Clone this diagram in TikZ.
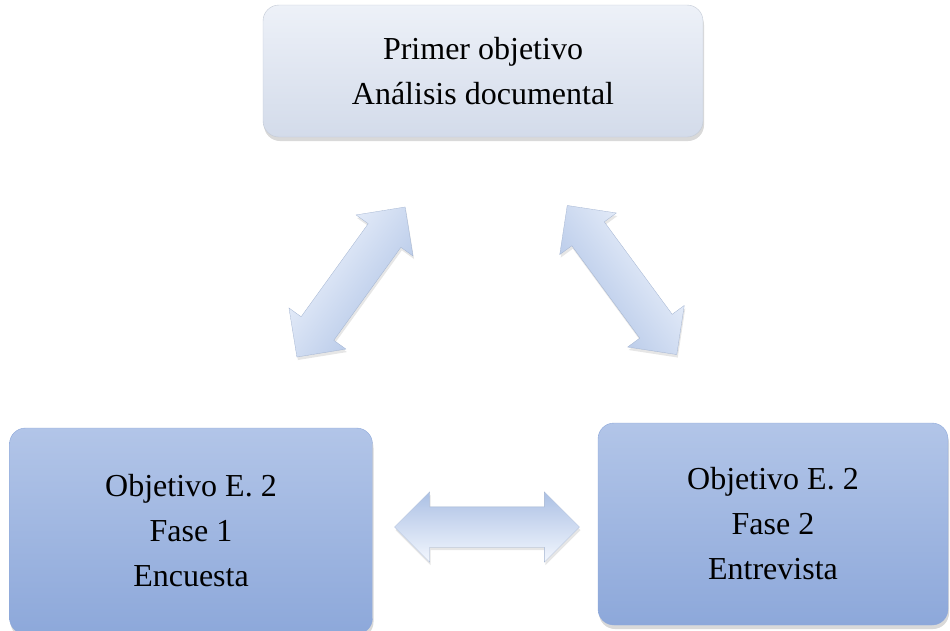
\documentclass[tikz,border=0pt]{standalone}
\usepackage{fontspec}
\setmainfont{Liberation Serif}
\usetikzlibrary{shapes.arrows, shadows, positioning}
\definecolor{topfill}{HTML}{D3DBEA}
\definecolor{topedge}{HTML}{EDF1F8}
\definecolor{lowfill}{HTML}{8DA8DA}
\definecolor{lowedge}{HTML}{B2C5E8}
\definecolor{arrowdark}{HTML}{ABC0E4}
\definecolor{arrowlight}{HTML}{F3F7FE}

\begin{document}
\begin{tikzpicture}[x=1pt, y=-1pt,
    objbox/.style={rounded corners=16pt, align=center, inner sep=0pt,
        font=\fontsize{32}{45}\selectfont,
        drop shadow={shadow xshift=1pt, shadow yshift=-4pt, opacity=0.3}},
    lightbox/.style={objbox, draw=topfill!80!gray, top color=topedge, bottom color=topfill},
    darkbox/.style={objbox, draw=lowfill, top color=lowedge, bottom color=lowfill},
    dblarrow/.style={double arrow, double arrow head extend=15pt,
        inner xsep=0pt, inner ysep=20pt, minimum height=185pt,
        draw=arrowdark!80!gray, line width=0.3pt,
        top color=arrowdark, bottom color=arrowlight,
        drop shadow={shadow xshift=1pt, shadow yshift=-3pt, opacity=0.2}}]

    \useasboundingbox (0,0) rectangle (950,630);

    % Objective boxes
    \node[lightbox, minimum width=440, minimum height=132] (prim) at (483,71)
        {Primer objetivo\\Análisis documental};
    \node[darkbox, minimum width=363, minimum height=206] (enc) at (191,531)
        {Objetivo E. 2\\Fase 1\\Encuesta};
    \node[darkbox, minimum width=350, minimum height=202] (ent) at (773,524)
        {Objetivo E. 2\\Fase 2\\Entrevista};

    % Two-way arrows between them
    \node[dblarrow, rotate=54.2, shading angle=234] (a1) at (351,282) {};
    \node[dblarrow, rotate=-53.7, shading angle=126] (a2) at (622,280) {};
    \node[dblarrow] (a3) at (487,527) {};
\end{tikzpicture}
\end{document}
